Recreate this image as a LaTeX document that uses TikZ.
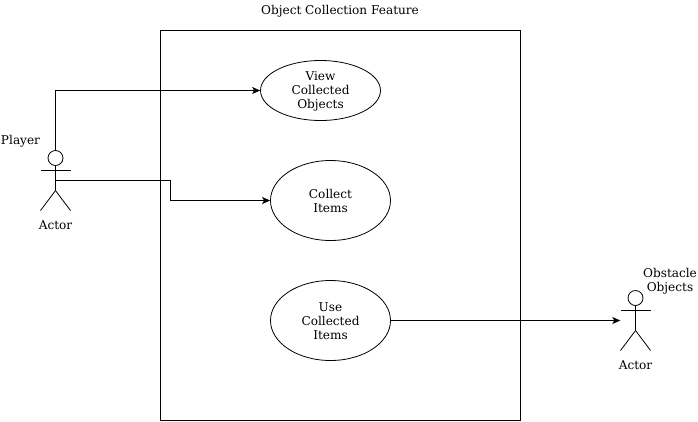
\documentclass[tikz,border=0pt]{standalone}
\usepackage{fontspec}
\setmainfont{DejaVu Serif}
\usetikzlibrary{arrows.meta,shapes.geometric}
\newcommand{\tophold}{\rule{0pt}{11.5pt}}
\newcommand{\bothold}{\rule[-2pt]{0pt}{2pt}}
\tikzset{
  x=1pt,y=-1pt,
  usecase/.style={draw=black,ellipse,minimum width=120pt,minimum height=80pt,inner sep=0pt,align=center,line width=0.8pt,font=\fontsize{12.1}{14}\selectfont},
  label text/.style={inner sep=0pt,align=center,font=\fontsize{12.1}{14}\selectfont},
  head/.style={draw=black,circle,minimum size=15pt,inner sep=0pt,line width=0.8pt},
  body/.style={inner sep=0pt,minimum width=30pt,minimum height=60pt},
  stick/.style={draw=black,line width=0.8pt},
  conn/.style={draw=black,line width=0.9pt,-{Stealth[length=8pt,width=7pt,inset=2pt]}},
}
\newcommand{\stickman}[3]{% name, x, top y
  \node[head] (#1h) at (#2,#3+7.5) {};
  \node[body] (#1) at (#2,#3+30) {};
  \draw[stick] (#1h.south) -- (#2,#3+40) -- (#2-15,#3+60);
  \draw[stick] (#2,#3+40) -- (#2+15,#3+60);
  \draw[stick] (#2-15,#3+20) -- (#2+15,#3+20);
}
\begin{document}
\begin{tikzpicture}
\useasboundingbox (0,0) rectangle (698,421);
\node[draw=black,line width=0.9pt,minimum width=360pt,minimum height=390pt,inner sep=0pt] (frame) at (340.5,225.5) {};
\node[label text] (title) at (340,11) {Object Collection Feature};
\node[usecase,minimum height=60pt] (view) at (320.5,90.5) {\tophold View\\Collected\\Objects\bothold};
\node[usecase] (collect) at (330.5,200.5) {\tophold Collect\\Items\bothold};
\node[usecase] (use) at (330.5,320.5) {\tophold Use\\Collected\\Items\bothold};
\stickman{player}{55.5}{150.5}
\stickman{obstacle}{635.5}{290.5}
\node[label text] (playerlabel) at (20.5,141.5) {Player};
\node[label text] (playeractor) at (55.5,225.5) {Actor};
\node[label text] (obstaclelabel) at (670,281.5) {Obstacle\\Objects};
\node[label text] (obstacleactor) at (635.5,365.5) {Actor};
\draw[conn] (playerh.north) |- (view.west);
\draw[conn] (player.center) -- ++(115,0) |- (collect.west);
\draw[conn] (use.east) -- (obstacle.west);
\end{tikzpicture}
\end{document}
